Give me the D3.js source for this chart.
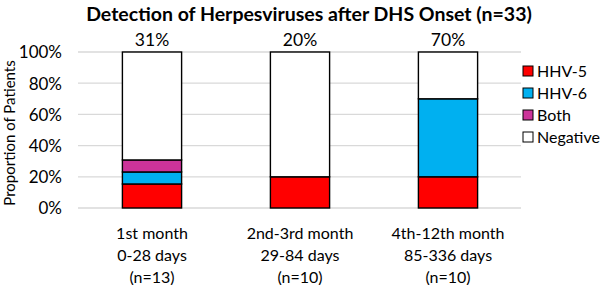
<!DOCTYPE html>
<html>
<head>
<meta charset="utf-8">
<script src="https://cdn.jsdelivr.net/npm/d3@7"></script>
<style>
  body { margin: 0; background: #fff; }
  text { font-family: Lato, "Open Sans", sans-serif; fill: #000; }
</style>
</head>
<body>
<svg id="svg0" width="600" height="285"></svg>
<script>
var categories = ["1st month|0-28 days|(n=13)", "2nd-3rd month|29-84 days|(n=10)", "4th-12th month|85-336 days|(n=10)"];
var series = ["HHV-5", "HHV-6", "Both", "Negative"];
var colors = ["#ff0000", "#00b0f0", "#cc3399", "#ffffff"];
var hhv5 = [15.4, 20, 20];
var hhv6 = [7.7, 0, 50];
var both = [7.7, 0, 0];
var negative = [69.2, 80, 30];
var topLabels = ["31%", "20%", "70%"];
var yTicks = [0, 20, 40, 60, 80, 100];

var svg = d3.select('#svg0');

var x = d3.scaleBand()
    .domain(categories)
    .range([78, 522])
    .paddingInner(0.6)
    .paddingOuter(0.3);

var y = d3.scaleLinear()
    .domain([0, 100])
    .range([208, 52]);

// gridlines
svg.selectAll("line.grid")
    .data(yTicks)
    .enter()
    .append("line")
    .attr("class", "grid")
    .attr("x1", 78)
    .attr("x2", 521)
    .attr("y1", function (d) { return y(d); })
    .attr("y2", function (d) { return y(d); })
    .attr("stroke", "#d9d9d9")
    .attr("stroke-width", 1.3);

// y axis labels
var yAxis = d3.axisLeft(y)
    .tickValues(yTicks)
    .tickFormat(function (d) { return d + "%"; })
    .tickSize(0)
    .tickPadding(0);

var yg = svg.append("g")
    .attr("transform", "translate(62,0)")
    .call(yAxis);
yg.select(".domain").remove();
yg.selectAll("text")
    .attr("font-size", "17px")
    .style("font-family", "Lato, 'Open Sans', sans-serif")
    .attr("dy", "0.35em");

svg.append("text")
    .attr("transform", "translate(15,133) rotate(-90)")
    .attr("text-anchor", "middle")
    .attr("font-size", "15px")
    .text("Proportion of Patients");

// stacked bars
var rows = categories.map(function (c, i) {
    return { cat: c, "HHV-5": hhv5[i], "HHV-6": hhv6[i], "Both": both[i], "Negative": negative[i] };
});
var stacked = d3.stack().keys(series)(rows);

svg.selectAll("g.layer")
    .data(stacked)
    .enter()
    .append("g")
    .attr("class", "layer")
    .attr("fill", function (d, i) { return colors[i]; })
    .selectAll("rect")
    .data(function (d) { return d.filter(function (p) { return p[1] - p[0] > 0; }); })
    .enter()
    .append("rect")
    .attr("x", function (d) { return x(d.data.cat); })
    .attr("width", x.bandwidth())
    .attr("y", function (d) { return y(d[1]); })
    .attr("height", function (d) { return y(d[0]) - y(d[1]); })
    .attr("stroke", "#000")
    .attr("stroke-width", 1.4);

// labels above bars
svg.selectAll("text.top")
    .data(categories)
    .enter()
    .append("text")
    .attr("class", "top")
    .attr("x", function (d) { return x(d) + x.bandwidth() / 2; })
    .attr("y", 46)
    .attr("text-anchor", "middle")
    .attr("font-size", "17.5px")
    .text(function (d, i) { return topLabels[i]; });

// category labels
var xl = svg.selectAll("text.cat")
    .data(categories)
    .enter()
    .append("text")
    .attr("class", "cat")
    .attr("text-anchor", "middle")
    .attr("font-size", "16px");
xl.selectAll("tspan")
    .data(function (d) {
        return d.split("|").map(function (s, k) { return { s: s, k: k, cx: x(d) + x.bandwidth() / 2 }; });
    })
    .enter()
    .append("tspan")
    .attr("x", function (d) { return d.cx; })
    .attr("y", function (d) { return 239 + d.k * 22; })
    .text(function (d) { return d.s; });

// legend
var lg = svg.selectAll("g.legend")
    .data(series)
    .enter()
    .append("g")
    .attr("class", "legend")
    .attr("transform", function (d, i) { return "translate(523," + (71 + i * 22) + ")"; });
lg.append("rect")
    .attr("x", 0)
    .attr("y", -5)
    .attr("width", 10)
    .attr("height", 10)
    .attr("fill", function (d, i) { return colors[i]; })
    .attr("stroke", "#000")
    .attr("stroke-width", 1);
lg.append("text")
    .attr("x", 14)
    .attr("y", 0)
    .attr("dy", "0.35em")
    .attr("font-size", "16px")
    .text(function (d) { return d; });

// title
svg.append("text")
    .attr("x", 309)
    .attr("y", 21)
    .attr("text-anchor", "middle")
    .attr("font-size", "19.5px")
    .attr("font-weight", "bold")
    .text("Detection of Herpesviruses after DHS Onset (n=33)");
</script>
</body>
</html>
